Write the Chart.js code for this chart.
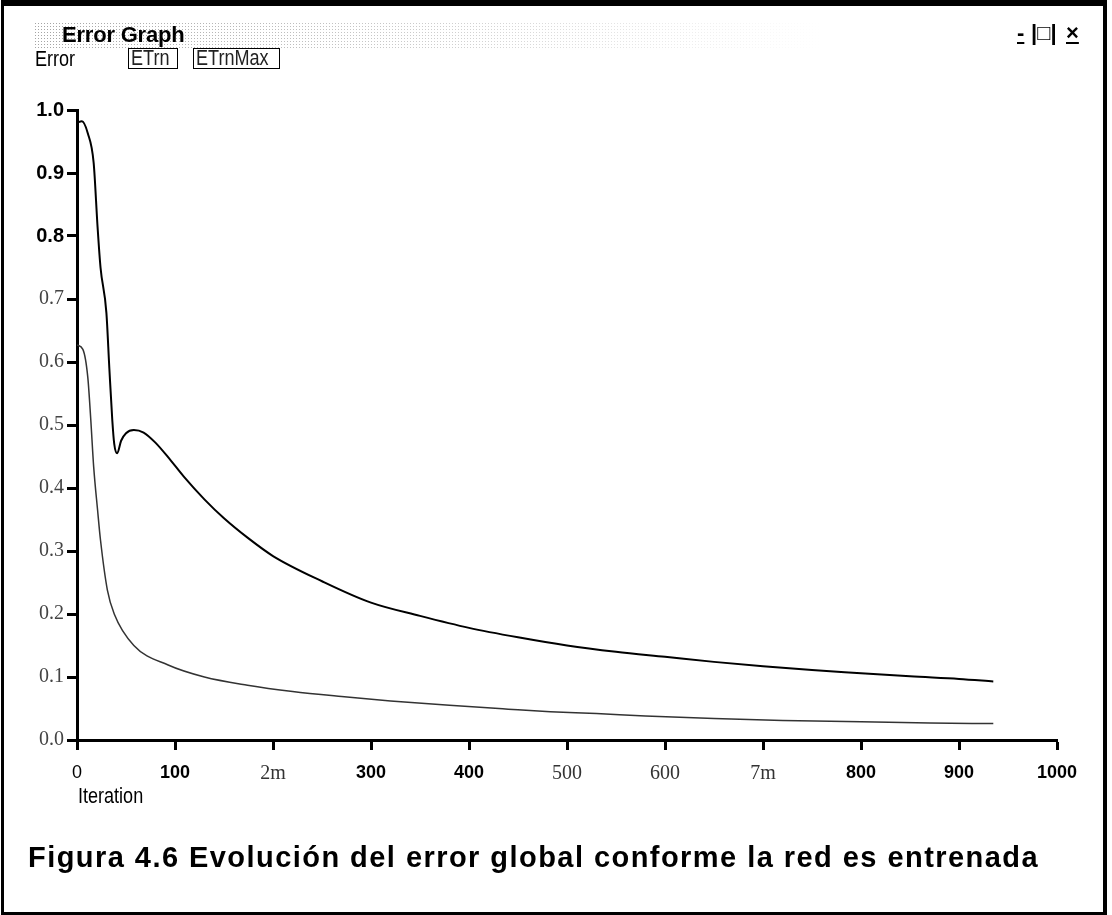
<!DOCTYPE html>
<html>
<head>
<meta charset="utf-8">
<script src="https://cdn.jsdelivr.net/npm/chart.js@4.4.1/dist/chart.umd.min.js"></script>
<style>
  html, body { margin: 0; padding: 0; background: #fff; }
  #page { position: relative; width: 1112px; height: 915px; overflow: hidden; font-family: 'Liberation Sans', Arial, sans-serif; }
  #frame { position: absolute; left: 1px; top: 0; width: 1099px; height: 906px; border-style: solid; border-color: #000; border-width: 6px 4px 3px 3px; }
  #chartCanvas { position: absolute; left: 0; top: 0; }
  .titlebar { position: absolute; left: 34px; top: 22px; width: 790px; height: 26px;
    background-image: radial-gradient(#9a9a9a 0.7px, transparent 1px);
    background-size: 3px 3px;
    -webkit-mask-image: linear-gradient(to right, rgba(0,0,0,0.9), rgba(0,0,0,0.5) 50%, rgba(0,0,0,0));
    mask-image: linear-gradient(to right, rgba(0,0,0,0.9), rgba(0,0,0,0.5) 50%, rgba(0,0,0,0)); }
  .title { position: absolute; left: 62px; top: 22px; font: bold 22px 'Liberation Sans', Arial, sans-serif; color: #000; letter-spacing: -0.2px; }
  .ctrl { position: absolute; top: 20px; font: bold 22px 'Liberation Sans', Arial, sans-serif; color: #000; }
  .narrow { position: absolute; font: 22px 'Liberation Sans', Arial, sans-serif; color: #000; transform: scaleX(0.82); transform-origin: left top; white-space: nowrap; }
  .lbox { position: absolute; top: 48px; height: 21px; border: 1px solid #000; box-sizing: border-box; }
  .lbox span { position: absolute; left: 2px; top: -4px; font: 22px 'Liberation Sans', Arial, sans-serif; color: #222; transform: scaleX(0.82); transform-origin: left top; white-space: nowrap; }
  .caption { position: absolute; left: 28px; top: 841px; font: bold 29px 'Liberation Sans', Arial, sans-serif; letter-spacing: 1.45px; color: #000; white-space: nowrap; }
</style>
</head>
<body>
<div id="page">
  <canvas id="chartCanvas" width="1112" height="915"></canvas>
  <div id="frame"></div>
  <div class="titlebar"></div>
  <div class="title">Error Graph</div>
  <div class="ctrl" style="left:1017px;"><u>-</u></div>
  <div class="ctrl" style="left:1031px;">|□|</div>
  <div class="ctrl" style="left:1066px;"><u>×</u></div>
  <div class="narrow" style="left:35px; top:46px;">Error</div>
  <div class="lbox" style="left:128px; width:50px;"><span>ETrn</span></div>
  <div class="lbox" style="left:193px; width:87px;"><span>ETrnMax</span></div>
  <div class="narrow" style="left:78px; top:783px;">Iteration</div>
  <div class="caption">Figura 4.6 Evolución del error global conforme la red es entrenada</div>
</div>
<script>
// upper curve (ETrnMax)
const maxIter = [0, 5, 11, 17, 21, 24, 30, 33, 36, 38, 41, 45, 50, 58, 68, 80, 95, 109, 130, 150, 175, 200, 250, 300, 350, 400, 450, 500, 550, 600, 650, 700, 750, 800, 850, 900, 935];
const maxErr  = [0.98, 0.982, 0.963, 0.916, 0.814, 0.75, 0.678, 0.59, 0.508, 0.47, 0.455, 0.475, 0.487, 0.492, 0.488, 0.472, 0.445, 0.418, 0.382, 0.352, 0.32, 0.292, 0.252, 0.218, 0.197, 0.178, 0.163, 0.15, 0.14, 0.132, 0.124, 0.117, 0.111, 0.106, 0.101, 0.097, 0.093];

// lower curve (ETrn)
const trnIter = [0, 6, 11, 14, 17, 21, 24, 31, 38, 58, 93, 130, 174, 220, 270, 320, 380, 440, 483, 530, 580, 650, 720, 800, 870, 935];
const trnErr  = [0.627, 0.62, 0.576, 0.51, 0.434, 0.365, 0.317, 0.238, 0.2, 0.15, 0.119, 0.1, 0.087, 0.077, 0.069, 0.062, 0.055, 0.049, 0.045, 0.042, 0.038, 0.034, 0.031, 0.029, 0.027, 0.026];

const xTickValues = [0, 100, 200, 300, 400, 500, 600, 700, 800, 900, 1000];
const xTickLabels = ['0', '100', '2m', '300', '400', '500', '600', '7m', '800', '900', '1000'];
const yTickValues = [0, 0.1, 0.2, 0.3, 0.4, 0.5, 0.6, 0.7, 0.8, 0.9, 1.0];
const yTickLabels = ['0.0', '0.1', '0.2', '0.3', '0.4', '0.5', '0.6', '0.7', '0.8', '0.9', '1.0'];

// labels that came out of the scan in a serif face
const serifLabels = ['2m', '500', '600', '7m', '0.0', '0.1', '0.2', '0.3', '0.4', '0.5', '0.6', '0.7'];

function tickFont(label, sansSize) {
    if (serifLabels.includes(label)) return { family: "'Liberation Serif', 'DejaVu Serif', serif", size: 20, weight: 'normal' };
    if (label === '0') return { family: "'Liberation Sans', sans-serif", size: sansSize, weight: 'normal' };
    return { family: "'Liberation Sans', sans-serif", size: sansSize, weight: 'bold' };
}

const toPoints = (xs, ys) => xs.map((x, i) => ({ x: x, y: ys[i] }));

const ctx = document.getElementById('chartCanvas').getContext('2d');
new Chart(ctx, {
    type: 'line',
    data: {
        datasets: [{
            label: 'ETrnMax',
            data: toPoints(maxIter, maxErr),
            borderColor: '#000',
            borderWidth: 2,
            pointRadius: 0,
            cubicInterpolationMode: 'monotone',
            fill: false
        }, {
            label: 'ETrn',
            data: toPoints(trnIter, trnErr),
            borderColor: '#333',
            borderWidth: 1.5,
            pointRadius: 0,
            cubicInterpolationMode: 'monotone',
            fill: false
        }]
    },
    options: {
        responsive: false,
        animation: false,
        layout: { padding: { left: 0, top: 110, right: 55, bottom: 135 } },
        plugins: { legend: { display: false }, tooltip: { enabled: false } },
        scales: {
            x: {
                type: 'linear',
                min: 0,
                max: 1000,
                afterBuildTicks: s => { s.ticks = xTickValues.map(v => ({ value: v })); },
                afterFit: s => { s.height = 40; },
                border: { display: true, color: '#000', width: 3 },
                grid: { display: true, drawOnChartArea: false, drawTicks: true, tickLength: 10, tickWidth: 3, color: '#000' },
                ticks: {
                    padding: 12,
                    color: c => serifLabels.includes(xTickLabels[c.index]) ? '#333' : '#000',
                    font: c => tickFont(xTickLabels[c.index], 18),
                    callback: (v, i) => xTickLabels[i]
                }
            },
            y: {
                type: 'linear',
                min: 0,
                max: 1,
                afterBuildTicks: s => { s.ticks = yTickValues.map(v => ({ value: v })); },
                afterFit: s => { s.width = 77; },
                border: { display: true, color: '#000', width: 3 },
                grid: { display: true, drawOnChartArea: false, drawTicks: true, tickLength: 10, tickWidth: 3, color: '#000' },
                ticks: {
                    padding: 3,
                    color: c => serifLabels.includes(yTickLabels[c.index]) ? '#444' : '#000',
                    font: c => tickFont(yTickLabels[c.index], 20),
                    callback: (v, i) => yTickLabels[i]
                }
            }
        }
    }
});
</script>
</body>
</html>
